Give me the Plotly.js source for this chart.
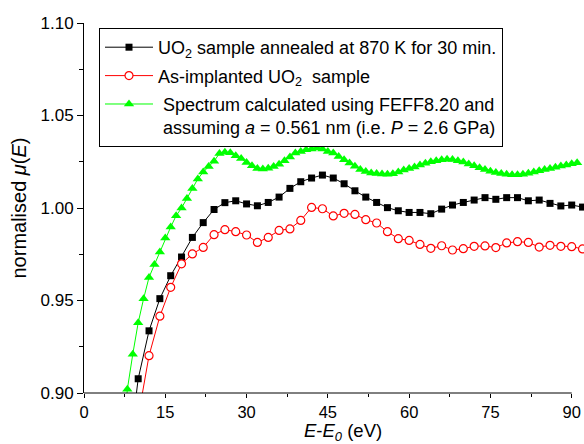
<!DOCTYPE html>
<html>
<head>
<meta charset="utf-8">
<script src="https://cdn.plot.ly/plotly-3.0.1.min.js"></script>
<style>html,body{margin:0;padding:0;background:#fff;}#chart{width:584px;height:444px;}</style>
</head>
<body>
<div id="chart"></div>
<script>
// Annealed sample (black squares)
const annealedE = [8,10,12,14,16,18,20,22,24,26,28,30,32,34,36,38,40,42,44,46,48,50,52,54,56,58,60,62,64,66,68,70,72,74,76,78,80,82,84,86,88,90,92];
const annealedMu = [0.860,0.9077,0.9336,0.9510,0.9634,0.9735,0.9841,0.9921,0.9992,1.0029,1.0039,1.0022,1.0012,1.0030,1.0059,1.0106,1.0142,1.0162,1.0178,1.0162,1.0131,1.0093,1.0059,1.0030,1.0002,0.9985,0.9976,0.9976,0.9969,0.9994,1.0016,1.0030,1.0043,1.0056,1.0047,1.0056,1.0056,1.0039,1.0043,1.0025,1.0011,1.0016,1.0005];

// As-implanted sample (red open circles)
const implantedE = [10,12,14,16,18,20,22,24,26,28,30,32,34,36,38,40,42,44,46,48,50,52,54,56,58,60,62,64,66,68,70,72,74,76,78,80,82,84,86,88,90,92];
const implantedMu = [0.887,0.9202,0.9415,0.9571,0.9698,0.9752,0.9787,0.9856,0.9883,0.9872,0.9854,0.9814,0.9841,0.9879,0.9887,0.9933,1.0003,0.9996,0.9957,0.9971,0.9965,0.9937,0.9919,0.9872,0.9834,0.9825,0.9803,0.9782,0.9796,0.9773,0.9780,0.9793,0.9795,0.9786,0.9811,0.9818,0.9814,0.9789,0.9798,0.9793,0.9791,0.9779];

// FEFF8.20 calculation (green triangles)
const feffE = [7,8,9,10,11,12,13,14,15,16,17,18,19,20,21,22,23,24,25,26,27,28,29,30,31,32,33,34,35,36,37,38,39,40,41,42,43,44,45,46,47,48,49,50,51,52,53,54,55,56,57,58,59,60,61,62,63,64,65,66,67,68,69,70,71,72,73,74,75,76,77,78,79,80,81,82,83,84,85,86,87,88,89,90,91];
const feffMu = [0.870,0.902,0.921,0.938,0.951,0.9625,0.9694,0.9762,0.9838,0.9897,0.9958,1.0000,1.0052,1.0106,1.0157,1.0194,1.0225,1.0253,1.0295,1.0302,1.0298,1.0282,1.0267,1.0246,1.0228,1.0214,1.0211,1.0215,1.0224,1.0236,1.0256,1.0276,1.0297,1.0306,1.0315,1.0319,1.0324,1.0319,1.0306,1.0297,1.0279,1.0261,1.0243,1.0226,1.0208,1.0197,1.0189,1.0186,1.0184,1.0183,1.0185,1.0195,1.0205,1.0213,1.0222,1.0232,1.0242,1.0250,1.0256,1.0261,1.0264,1.0262,1.0256,1.0248,1.0238,1.0228,1.0218,1.0208,1.0199,1.0192,1.0186,1.0182,1.0180,1.0180,1.0183,1.0188,1.0195,1.0202,1.0208,1.0214,1.0220,1.0227,1.0233,1.0239,1.0244];

const xTicks = [0,15,30,45,60,75,90];
const yTicks = [0.90,0.95,1.00,1.05,1.10];

const FONT = '"Liberation Sans", Arial, sans-serif';

const traces = [
  {x: annealedE, y: annealedMu, type:'scatter', mode:'lines+markers', legendgroup:'a',
   name:'UO<sub>2</sub> sample annealed at 870 K for 30 min.',
   line:{color:'#000000', width:1}, marker:{symbol:'square', size:7, color:'#000000'}},
  {x: implantedE, y: implantedMu, type:'scatter', mode:'lines+markers', legendgroup:'b',
   name:'As-implanted UO<sub>2</sub>  sample',
   line:{color:'#ff0000', width:1}, marker:{symbol:'circle', size:8, color:'#ffffff', line:{color:'#ff0000', width:1.2}}},
  {x: feffE, y: feffMu, type:'scatter', mode:'lines+markers', legendgroup:'c',
   name:' Spectrum calculated using FEFF8.20 and<br> assuming <i>a</i> = 0.561 nm (i.e. <i>P</i> = 2.6 GPa)',
   line:{color:'#00ff00', width:1}, marker:{symbol:'triangle-up', size:9, color:'#00ff00'}}
];

const layout = {
  width:584, height:444,
  margin:{l:84, r:0, t:23, b:50.5, pad:0},
  paper_bgcolor:'#ffffff', plot_bgcolor:'#ffffff',
  font:{family:FONT, size:17, color:'#000000'},
  showlegend:true,
  legend:{x:0.03, y:0.9865, xanchor:'left', yanchor:'top', bgcolor:'#ffffff',
    bordercolor:'#000000', borderwidth:1, font:{family:FONT, size:18, color:'#000000'},
    traceorder:'grouped', tracegroupgap:2, valign:'top', itemwidth:48},
  xaxis:{range:[0,92.27], tickvals:xTicks, ticktext:xTicks.map(String), ticks:'outside', ticklen:4, tickwidth:1,
    tickcolor:'#000', showgrid:false, zeroline:false, showline:false,
    minor:{ticks:'outside', ticklen:3, tickwidth:1, tickcolor:'#000', dtick:7.5, tick0:0, showgrid:false},
    tickfont:{family:FONT, size:16.5}},
  yaxis:{range:[0.90,1.10], tickvals:yTicks, ticktext:yTicks.map(v=>v.toFixed(2)), ticks:'outside', ticklen:6, tickwidth:1,
    tickcolor:'#000', showgrid:false, zeroline:false, showline:true, linecolor:'#000', linewidth:1,
    minor:{ticks:'outside', ticklen:4, tickwidth:1, tickcolor:'#000', dtick:0.025, tick0:0.9, showgrid:false},
    tickfont:{family:FONT, size:17},
    title:{text:'normalised <i>μ</i>(<i>E</i>)', font:{family:FONT, size:20}, standoff:8}},
  annotations:[{text:'<i>E</i>-<i>E</i><sub><i>0</i></sub> (eV)', xref:'paper', yref:'paper', x:0.518, y:-0.1065,
    xanchor:'center', yanchor:'middle', showarrow:false, borderpad:0, font:{family:FONT, size:18.5, color:'#000'}}],
  shapes:[{type:'line', xref:'x', yref:'paper', x0:0, x1:90, y0:0, y1:0, line:{color:'#000', width:1}}]
};

Plotly.newPlot('chart', traces, layout, {displayModeBar:false, staticPlot:true});
</script>
</body>
</html>
